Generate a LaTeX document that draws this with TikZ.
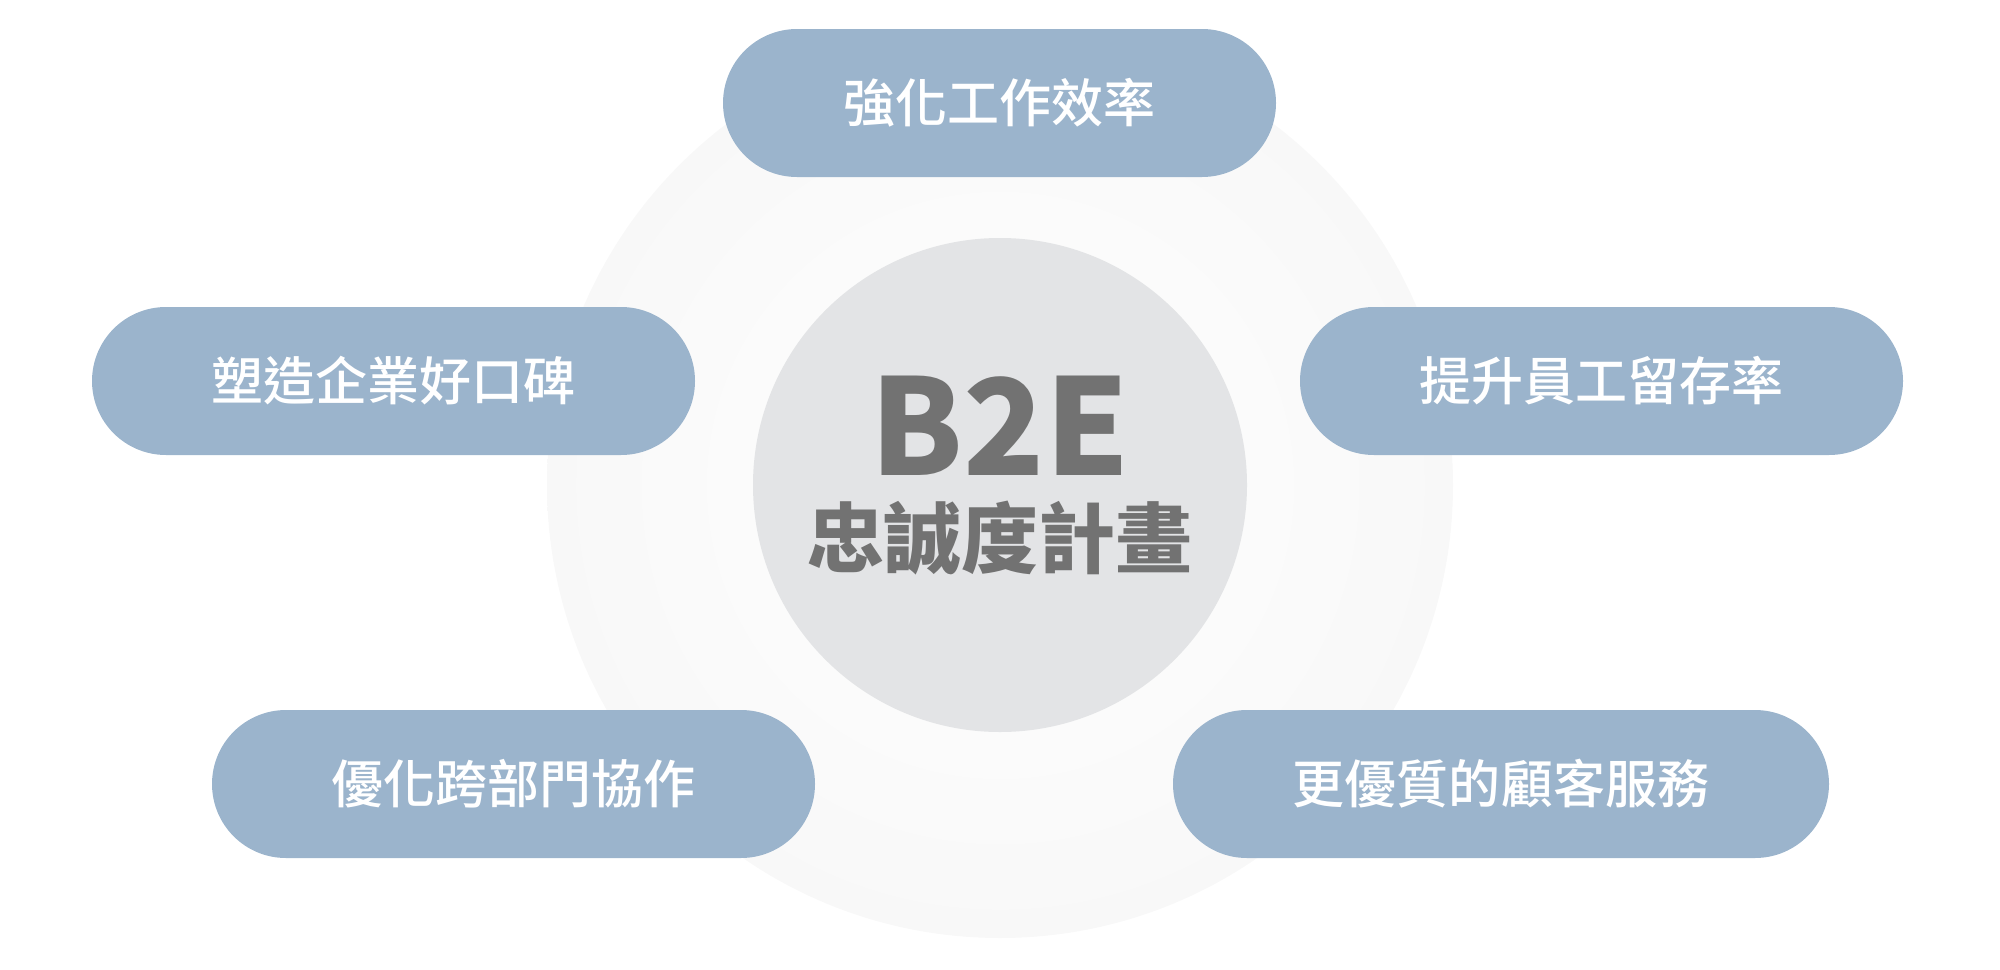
\documentclass[tikz,border=0pt]{standalone}
\usepackage{fontspec}
\usepackage{tikz}
\usetikzlibrary{positioning}
\setmainfont{Noto Sans CJK TC}
\newfontfamily\pillfont{Noto Sans CJK TC Medium}
\definecolor{pillblue}{RGB}{155,180,204}
\definecolor{coregrey}{RGB}{227,228,230}
\definecolor{halogrey}{RGB}{240,240,240}
\definecolor{textgrey}{RGB}{114,114,114}
\pgfdeclareradialshading{halo}{\pgfpoint{0bp}{0bp}}{color(0bp)=(white); color(27bp)=(white!50!halogrey); color(50bp)=(halogrey); color(100bp)=(halogrey)}
\tikzset{
  pill/.style={fill=pillblue, rounded corners=0.74cm, minimum height=1.48cm, inner sep=0pt,
    text=white, font=\pillfont\fontsize{14.8}{18}\selectfont}}

\begin{document}
\begin{tikzpicture}
  \useasboundingbox (0,0) rectangle (20,-9.7);
  \coordinate (o) at (10,-4.85);
  % rings
  \shade[shading=halo] (o) circle (4.53);
  \fill[coregrey] (o) circle (2.47);
  \node[anchor=base, text=textgrey, font=\fontsize{38}{38}\selectfont\bfseries] (b2e) at (10,-4.75) {B2E};
  \node[anchor=base, text=textgrey, font=\fontsize{21.9}{22}\selectfont\bfseries] (plan) at (10,-5.67) {忠誠度計畫};
  % benefits
  \node[pill, minimum width=5.53cm] (work) at (9.995,-1.03) {強化工作效率};
  \node[pill, minimum width=6.03cm] (brand) at (3.935,-3.81) {塑造企業好口碑};
  \node[pill, minimum width=6.03cm] (retain) at (16.015,-3.81) {提升員工留存率};
  \node[pill, minimum width=6.03cm] (team) at (5.135,-7.84) {優化跨部門協作};
  \node[pill, minimum width=6.56cm] (service) at (15.01,-7.84) {更優質的顧客服務};
\end{tikzpicture}
\end{document}
